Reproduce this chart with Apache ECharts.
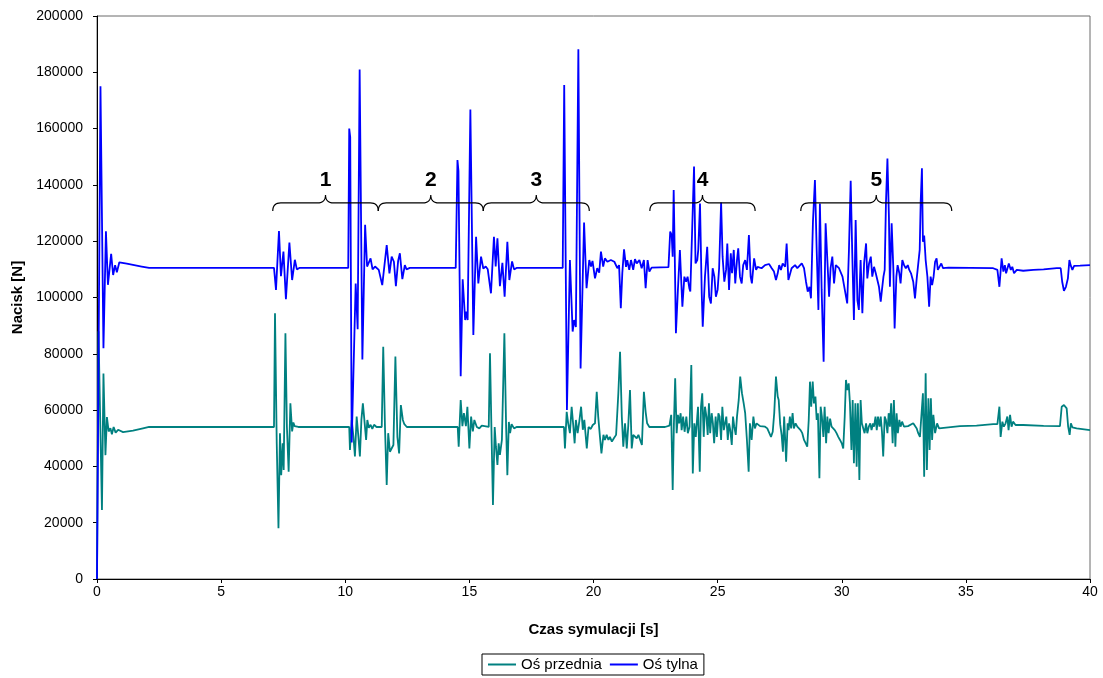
<!DOCTYPE html>
<html><head><meta charset="utf-8">
<script src="https://cdn.jsdelivr.net/npm/echarts@6/dist/echarts.min.js"></script>
<style>html,body{margin:0;padding:0;background:#fff}#c{width:1103px;height:678px}</style>
</head><body><div id="c"></div><script>
const seriesNames = ['Oś przednia', 'Oś tylna'];
const xTicks = [0, 5, 10, 15, 20, 25, 30, 35, 40];
const yTicks = [0, 20000, 40000, 60000, 80000, 100000, 120000, 140000, 160000, 180000, 200000];

// Oś przednia (front axle) [time s, force N]
const frontAxle = [
[0,0],[0.06,88000],[0.2,24500],[0.26,73000],[0.34,44000],[0.4,57500],[0.47,52400],[0.54,53600],[0.6,51400],[0.67,54000],[0.75,52000],[0.85,53000],[1.05,52200],[1.45,52700],[1.85,53500],[2.1,54000],
[7.13,54000],[7.17,94400],[7.24,48200],[7.31,18000],[7.37,51800],[7.42,36900],[7.48,48200],[7.52,38700],[7.59,87300],[7.65,54000],[7.72,38100],[7.79,62400],[7.86,52400],[7.91,55600],[7.96,54300],[8.02,54300],[8.11,54000],
[10.16,54000],[10.19,45800],[10.26,56500],[10.33,50500],[10.39,43500],[10.46,57700],[10.53,50500],[10.59,43500],[10.65,56500],[10.71,62400],[10.77,56500],[10.84,49400],[10.89,56500],[10.95,53700],[11.02,54800],[11.09,53300],[11.16,54800],[11.26,54000],
[11.47,54000],[11.53,82500],[11.6,54000],[11.67,33400],[11.73,51800],[11.8,45200],[11.87,45800],[11.94,47600],[12.02,79000],[12.1,50500],[12.17,44600],[12.24,61800],[12.32,56500],[12.38,55000],[12.48,54000],
[14.53,54000],[14.57,47000],[14.65,63600],[14.72,54300],[14.78,58900],[14.86,54300],[14.92,61200],[15.0,46400],[15.07,57700],[15.14,52400],[15.2,56500],[15.3,54000],[15.4,53500],[15.5,54500],[15.78,54000],
[15.83,80200],[15.9,48200],[15.95,26300],[16.02,54000],[16.07,47000],[16.13,40500],[16.18,48200],[16.23,44100],[16.31,49400],[16.41,87300],[16.48,54000],[16.53,36900],[16.59,55800],[16.64,51800],[16.7,55000],[16.8,53500],[16.9,54000],
[18.81,54000],[18.85,46400],[18.92,59400],[18.98,55300],[19.05,51800],[19.12,61200],[19.19,54000],[19.24,48200],[19.29,56500],[19.36,51800],[19.43,56100],[19.5,61200],[19.57,53000],[19.63,56500],[19.73,46400],[19.8,54000],[19.89,53300],[19.97,54700],
[20.06,55300],[20.13,66500],[20.19,57700],[20.26,50500],[20.32,44600],[20.4,51200],[20.46,49400],[20.53,51200],[20.6,49400],[20.66,50500],[20.74,48800],[20.82,50000],[20.91,51200],[21.0,65900],[21.07,80700],[21.14,57700],[21.2,47000],[21.27,55300],[21.34,46400],[21.4,54500],[21.47,67100],[21.54,46400],[21.6,51200],[21.67,51800],[21.74,50000],[21.81,51200],[21.88,49400],[21.95,47600],[22.03,66500],[22.1,59400],[22.16,55300],[22.25,54000],[22.88,54000],[23.06,54500],
[23.09,54700],[23.13,58300],[23.19,31600],[23.24,55300],[23.29,71300],[23.35,51800],[23.4,58300],[23.45,55300],[23.51,58900],[23.55,52900],[23.61,57700],[23.67,52300],[23.74,57700],[23.8,51800],[23.87,54100],[23.94,76000],[24.0,37500],[24.06,55300],[24.12,50500],[24.18,57700],[24.21,61200],[24.28,38100],[24.33,61200],[24.38,66000],[24.44,50500],[24.49,61200],[24.55,57700],[24.6,51200],[24.65,62400],[24.7,51800],[24.76,58900],[24.81,55300],[24.86,48200],[24.92,57700],[24.97,50500],
[25.03,58900],[25.08,57700],[25.14,49400],[25.19,61200],[25.25,52900],[25.3,55300],[25.35,57700],[25.41,49400],[25.46,55300],[25.51,52900],[25.57,47600],[25.62,57700],[25.67,54100],[25.73,51200],[25.78,57700],[25.85,63600],[25.91,71900],[25.98,66000],[26.05,62400],[26.11,58900],[26.18,49400],[26.25,38100],[26.3,55300],[26.37,49400],[26.44,57700],[26.5,53500],[26.57,55300],[26.71,54300],[26.91,54100],
[27.0,53500],[27.08,52900],[27.15,50500],[27.22,52300],[27.28,58900],[27.35,71900],[27.42,64800],[27.46,63600],[27.52,55000],[27.58,51000],[27.63,45200],[27.68,57700],[27.76,41700],[27.82,55300],[27.86,52900],[27.91,57700],[27.96,53500],[28.02,58900],[28.07,53500],[28.14,55300],[28.21,54100],[28.28,53500],[28.34,52900],[28.41,51800],[28.48,49400],[28.55,48200],[28.61,47000],[28.67,56500],[28.72,70100],[28.77,61200],[28.83,70100],[28.88,62400],[28.94,64800],[28.99,56500],
[29.04,58900],[29.1,35800],[29.15,61200],[29.2,57700],[29.26,50500],[29.31,61200],[29.37,48200],[29.42,57700],[29.47,51800],[29.53,57000],[29.59,54100],[29.65,54100],[29.72,52900],[29.79,51800],[29.86,50500],[29.93,49400],[30.0,48200],[30.06,46400],[30.12,57700],[30.17,70700],[30.22,67100],[30.28,69500],[30.33,62400],[30.39,45800],[30.44,63600],[30.49,41100],[30.55,62400],[30.6,39900],[30.65,62400],[30.71,35200],[30.76,63600],[30.81,55300],[30.87,55300],[30.92,51800],[30.98,55300],
[31.03,51800],[31.09,54100],[31.15,55300],[31.2,52900],[31.26,55300],[31.3,54100],[31.36,57700],[31.41,52900],[31.46,57700],[31.52,54100],[31.57,57700],[31.62,52300],[31.67,43500],[31.73,57700],[31.78,56500],[31.84,51800],[31.89,58900],[31.94,54100],[31.99,62400],[32.05,48200],[32.1,63600],[32.16,47000],[32.21,58900],[32.26,51800],[32.32,56500],[32.37,54100],[32.43,55900],[32.51,54100],[32.59,54700],[32.67,54300],[32.75,54700],[32.88,55300],[32.95,55900],
[33.02,53500],[33.08,51800],[33.15,50500],[33.22,50000],[33.27,66000],[33.32,36300],[33.38,73100],[33.43,38700],[33.49,64200],[33.54,45800],[33.59,64200],[33.64,49400],[33.69,58300],[33.76,51800],[33.84,55300],[33.92,53500],[34.0,54100],[34.76,54300],[35.43,54500],[36.1,55000],[36.27,55000],
[36.35,61200],[36.4,50500],[36.47,55900],[36.53,54100],[36.6,55300],[36.67,57700],[36.72,52900],[36.78,58300],[36.84,54100],[36.9,55900],[37.0,54700],[37.31,54700],[38.13,54400],[38.79,54300],[38.86,61200],[38.95,61800],[39.06,60600],[39.12,54100],[39.18,51200],[39.23,55300],[39.29,53900],[39.46,53500],[40,52900]
];

// Oś tylna (rear axle) [time s, force N]
const rearAxle = [
[0,0],[0.14,175000],[0.26,82000],[0.36,123500],[0.44,104500],[0.5,105000],[0.57,115500],[0.65,108000],[0.73,111500],[0.8,109000],[0.9,112500],[1.2,112000],[1.5,111500],[1.8,111000],[2.1,110500],
[7.13,110500],[7.21,102700],[7.33,123600],[7.41,107600],[7.51,116300],[7.61,99400],[7.75,119500],[7.86,106200],[7.97,113400],[8.05,110000],[8.15,110500],
[10.12,110500],[10.16,160000],[10.2,157000],[10.26,48500],[10.42,105000],[10.5,88700],[10.58,181000],[10.69,78000],[10.8,125800],[10.88,111000],[11.02,113900],[11.1,110000],[11.2,111000],[11.35,109800],[11.43,110000],[11.49,104400],[11.67,118600],[11.78,108600],[11.87,114500],[11.96,112700],[12.04,104000],[12.13,113000],[12.2,115700],[12.3,106500],[12.4,111500],[12.47,110000],[12.6,110500],
[14.45,110500],[14.52,148800],[14.56,145000],[14.65,72000],[14.73,106500],[14.83,92000],[14.88,95000],[14.93,92000],[15.04,166800],[15.16,86700],[15.27,121600],[15.36,105000],[15.47,114500],[15.56,110300],[15.66,111000],[15.74,110000],[15.87,101500],[15.99,121600],[16.06,111000],[16.13,121000],[16.23,104000],[16.33,112300],[16.42,100300],[16.53,119800],[16.61,106200],[16.72,112800],[16.8,110000],[16.9,110500],
[18.76,110500],[18.82,175500],[18.93,60000],[19.05,113300],[19.16,87900],[19.22,92000],[19.29,89500],[19.39,188200],[19.48,74800],[19.62,126600],[19.72,103300],[19.83,113300],[19.9,111000],[19.96,113000],[20.06,106800],[20.15,110400],[20.23,108800],[20.3,116300],[20.39,111000],[20.46,113900],[20.56,112700],[20.64,112100],[20.7,113300],[20.84,112700],[20.96,110400],[21.03,111500],
[21.1,96200],[21.16,108600],[21.23,117100],[21.31,110900],[21.36,113300],[21.44,109800],[21.51,113300],[21.6,109800],[21.67,113600],[21.74,112100],[21.85,113300],[21.94,110400],[22.03,113300],[22.1,103300],[22.18,113300],[22.25,109200],[22.34,110600],[23.02,110800],
[23.09,123400],[23.15,122200],[23.19,114500],[23.23,138200],[23.27,116900],[23.32,87300],[23.4,102700],[23.48,116900],[23.58,96700],[23.66,107400],[23.73,105600],[23.79,107400],[23.86,103300],[23.9,102100],[24.05,146500],[24.11,112100],[24.18,113300],[24.22,116900],[24.29,133400],[24.36,101500],[24.4,89600],[24.49,107400],[24.58,118000],[24.66,100300],[24.73,97900],[24.8,110400],[24.87,107400],[24.93,100300],
[25.0,102700],[25.06,110400],[25.14,133700],[25.2,114500],[25.27,105600],[25.34,109800],[25.39,119200],[25.46,102700],[25.53,115700],[25.58,108600],[25.65,116900],[25.71,105000],[25.78,113300],[25.83,117500],[25.9,107400],[25.97,105000],[26.03,111500],[26.11,113300],[26.18,109800],[26.26,122200],[26.33,107400],[26.38,105000],[26.47,113900],[26.55,109800],[26.61,110900],[26.77,110400],[26.91,111500],
[27.07,111900],[27.18,110400],[27.27,109200],[27.35,106200],[27.42,108600],[27.48,111500],[27.55,109800],[27.62,112100],[27.72,110900],[27.78,119200],[27.85,106200],[27.92,106800],[27.98,110400],[28.05,109800],[28.12,111500],[28.21,110400],[28.29,110900],[28.39,112100],[28.48,110400],[28.56,105600],[28.63,102100],[28.7,103800],[28.76,99700],[28.84,126900],[28.92,141700],[28.99,116900],
[29.06,95600],[29.12,133400],[29.19,102700],[29.27,77200],[29.35,126400],[29.42,113300],[29.49,100300],[29.55,110400],[29.62,114500],[29.69,105000],[29.76,111500],[29.82,110900],[29.89,110400],[29.96,109800],[30.03,107400],[30.09,104400],[30.16,103800],[30.22,97900],[30.29,116900],[30.36,141500],[30.42,116900],[30.49,92000],[30.56,127500],[30.63,99100],[30.69,95600],[30.76,113300],[30.83,94400],[30.9,112100],[30.98,119200],
[31.03,106800],[31.1,112100],[31.17,114500],[31.23,107400],[31.3,110900],[31.37,108600],[31.43,108600],[31.5,103800],[31.57,98500],[31.62,102700],[31.68,107400],[31.73,109800],[31.78,133400],[31.84,149400],[31.9,128700],[31.94,103800],[32.01,126400],[32.08,109800],[32.13,89000],[32.2,107400],[32.25,111500],[32.32,108600],[32.37,105000],[32.44,113300],[32.51,111500],[32.58,110400],[32.66,111500],[32.72,109800],[32.79,108600],[32.88,105600],[32.95,99700],
[33.02,106800],[33.07,107400],[33.14,116900],[33.18,134000],[33.23,145900],[33.27,119800],[33.32,122000],[33.38,113300],[33.45,107400],[33.52,96700],[33.58,107400],[33.64,104400],[33.7,107400],[33.76,112700],[33.82,113900],[33.87,109800],[33.94,109200],[34.01,112100],[34.08,110400],[34.3,110600],
[36.1,110400],[36.27,109800],[36.35,103800],[36.44,113900],[36.51,109200],[36.57,111500],[36.62,108600],[36.67,109200],[36.73,112100],[36.81,109800],[36.87,110900],[36.94,108600],[37.05,109800],[37.31,109500],[37.72,109800],[38.13,110000],[38.66,110400],[38.82,110400],[38.88,105600],[38.95,102400],[39.03,103800],[39.11,106800],[39.17,113300],[39.22,111500],[39.29,109800],[39.36,111200],[39.6,111300],[40,111500]
];

// Annotated segments: label, start time, end time
const segLabels = ['1', '2', '3', '4', '5'];
const segStart = [7.08, 11.33, 15.56, 22.27, 28.35];
const segEnd = [11.33, 15.56, 19.83, 26.51, 34.43];
const braceLevel = 133600;
const braceLabelLevel = 141700;

const FONT = 'Liberation Sans, Arial, sans-serif';
const chart = echarts.init(document.getElementById('c'), null, {renderer: 'canvas'});
const axisCommon = {
  axisLine: {show: true, lineStyle: {color: '#000', width: 1}},
  axisTick: {show: true, inside: false, length: 4, lineStyle: {color: '#000'}},
  splitLine: {show: false},
  axisLabel: {color: '#000', fontSize: 14, fontFamily: FONT, formatter: function (v) { return String(v); }},
  nameTextStyle: {color: '#000', fontSize: 15, fontWeight: 'bold', fontFamily: FONT}
};
chart.setOption({
  animation: false,
  backgroundColor: '#fff',
  grid: {left: 97, right: 13, top: 16, bottom: 99, show: true, borderColor: '#6a6a6a', borderWidth: 1},
  legend: {
    data: seriesNames, left: 482, top: 654, orient: 'horizontal', icon: 'rect',
    itemWidth: 28, itemHeight: 2, itemGap: 8,
    padding: [3, 6, 3, 6], borderColor: '#000', borderWidth: 1,
    textStyle: {color: '#000', fontSize: 15, fontFamily: FONT}
  },
  xAxis: Object.assign({}, axisCommon, {
    type: 'value', min: xTicks[0], max: xTicks[xTicks.length - 1], interval: 5,
    name: 'Czas symulacji [s]', nameLocation: 'middle', nameGap: 43,
    axisLabel: Object.assign({}, axisCommon.axisLabel, {margin: 6})
  }),
  yAxis: Object.assign({}, axisCommon, {
    type: 'value', min: yTicks[0], max: yTicks[yTicks.length - 1], interval: 20000,
    name: 'Nacisk [N]', nameLocation: 'middle', nameGap: 71, nameRotate: 90,
    axisLabel: Object.assign({}, axisCommon.axisLabel, {margin: 14})
  }),
  series: [
    {name: seriesNames[0], type: 'line', data: frontAxle, symbol: 'none', showSymbol: false,
     lineStyle: {color: '#008080', width: 1.8}, itemStyle: {color: '#008080'}},
    {name: seriesNames[1], type: 'line', data: rearAxle, symbol: 'none', showSymbol: false,
     lineStyle: {color: '#0000FF', width: 1.8}, itemStyle: {color: '#0000FF'}}
  ]
});

// Curly braces marking segments 1-5 (quadratic curls sampled into a polyline)
function quad(p0, c, p1, out) {
  for (let k = 1; k <= 8; k++) {
    const t = k / 8, a = (1 - t) * (1 - t), b = 2 * (1 - t) * t, d = t * t;
    out.push([a * p0[0] + b * c[0] + d * p1[0], a * p0[1] + b * c[1] + d * p1[1]]);
  }
}
const graphics = [];
for (let i = 0; i < segLabels.length; i++) {
  const p0 = chart.convertToPixel({gridIndex: 0}, [segStart[i], braceLevel]);
  const p1 = chart.convertToPixel({gridIndex: 0}, [segEnd[i], braceLevel]);
  const pl = chart.convertToPixel({gridIndex: 0}, [(segStart[i] + segEnd[i]) / 2, braceLabelLevel]);
  const x0 = p0[0], x1 = p1[0], y = p0[1], xm = (x0 + x1) / 2, r = 8;
  const pts = [[x0, y + r]];
  quad([x0, y + r], [x0, y], [x0 + r, y], pts);
  pts.push([xm - r, y]);
  quad([xm - r, y], [xm, y], [xm, y - r], pts);
  quad([xm, y - r], [xm, y], [xm + r, y], pts);
  pts.push([x1 - r, y]);
  quad([x1 - r, y], [x1, y], [x1, y + r], pts);
  graphics.push({type: 'polyline', shape: {points: pts}, style: {stroke: '#000', fill: null, lineWidth: 1.2}, z: 10});
  graphics.push({type: 'text', x: pl[0], y: pl[1], z: 10,
    style: {text: segLabels[i], font: 'bold 21px ' + FONT, fill: '#000', align: 'center', verticalAlign: 'middle', textAlign: 'center', textVerticalAlign: 'middle'}});
}
chart.setOption({graphic: graphics});
</script></body></html>
